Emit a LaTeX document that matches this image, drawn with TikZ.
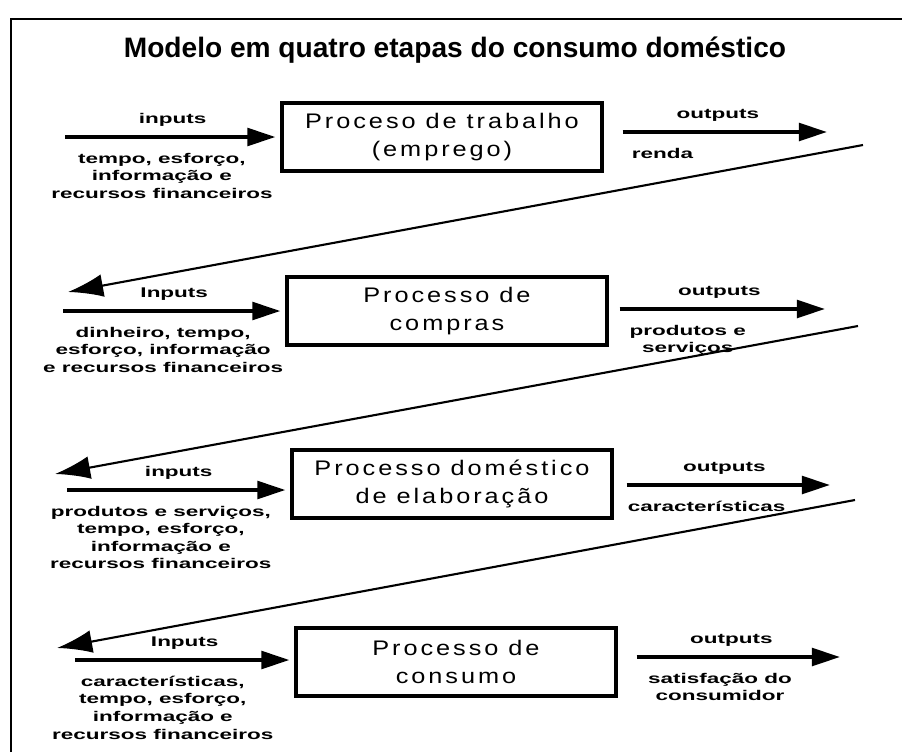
\documentclass[tikz,border=0pt]{standalone}
\usepackage{fontspec}
\setmainfont{Liberation Sans}
\newfontfamily\titlefont{Liberation Sans Bold}
\newfontfamily\labfont[FakeStretch=1.6]{Liberation Sans Bold}
\newfontfamily\boxfont[FakeStretch=1.2,LetterSpace=14]{Liberation Sans}
\usetikzlibrary{arrows.meta,calc,positioning}
\tikzset{%
        auto,
        >={Triangle[length=16pt,width=10pt]},
        shorten > = 0.1cm
}
\tikzstyle{process}=[
    draw = black,
    line width = 1.8pt,
    minimum width = 6.4cm,
    minimum height = 1.36cm,
    align = center,
    font = \boxfont\fontsize{12}{16}\selectfont
]
\tikzstyle{every edge}=[
    draw = black,
    line width = 2.2pt,
    ->
]
\tikzstyle{back}=[
    draw = black,
    line width = 1.2pt,
    shorten > = 0pt,
    -{Latex[length=20pt,width=13pt]}
]
\tikzstyle{lab}=[font=\labfont\fontsize{8}{10}\selectfont, inner sep=5pt]
\tikzstyle{info}=[font=\labfont\fontsize{8}{10}\selectfont, align=center, inner ysep=8pt]

\begin{document}
\begin{tikzpicture}[x=0.02cm, y=-0.02cm]
        \useasboundingbox (0,0) rectangle (907,752);
        \draw[line width=1.5pt] (11,752) |- (907,19);
        \node (title) at (455,50) {\titlefont\fontsize{16}{19}\selectfont Modelo em quatro etapas do consumo doméstico};

        \node[process] (b1) at (442,137) {Proceso de trabalho\\(emprego)};
        \node[process] (b2) at (447,311) {Processo de\\compras};
        \node[process] (b3) at (452,484) {Processo doméstico\\de elaboração};
        \node[process] (b4) at (456,662) {Processo de\\consumo};

        \coordinate (i1) at (65,137);
        \coordinate (i2) at (63,311);
        \coordinate (i3) at (67,490);
        \coordinate (i4) at (75,660);
        \coordinate (o1) at (832,132);
        \coordinate (o2) at (830,309);
        \coordinate (o3) at (835,485);
        \coordinate (o4) at (845,657);
        \coordinate (r1) at (863,145);
        \coordinate (r2) at (858,326);
        \coordinate (r3) at (855,500);
        \coordinate (l1) at (68,292);
        \coordinate (l2) at (55,474);
        \coordinate (l3) at (57,648);

      \path
      (i1)
      edge node[lab]{inputs} node[info, swap, pos=0.45]{tempo, esforço,\\informação e\\recursos financeiros} (i1 -| b1.west)
      (i2)
      edge node[lab]{Inputs} node[info, swap, pos=0.45]{dinheiro, tempo,\\esforço, informação\\e recursos financeiros} (i2 -| b2.west)
      (i3)
      edge node[lab]{inputs} node[info, swap, pos=0.42]{produtos e serviços,\\tempo, esforço,\\informação e\\recursos financeiros} (i3 -| b3.west)
      (i4)
      edge node[lab]{Inputs} node[info, swap, pos=0.4]{características,\\tempo, esforço,\\informação e\\recursos financeiros} (i4 -| b4.west)
      (o1 -| b1.east)
      edge[shorten < = 0.38cm] node[lab]{outputs} node[info, swap, pos=0.09, anchor=north west]{renda} (o1)
      (o2 -| b2.east)
      edge[shorten < = 0.22cm] node[lab]{outputs} node[info, swap, pos=0.06, anchor=north west]{produtos e\\serviços} (o2)
      (o3 -| b3.east)
      edge[shorten < = 0.26cm] node[lab]{outputs} node[info, swap, pos=0.03, anchor=north west]{características} (o3)
      (o4 -| b4.east)
      edge[shorten < = 0.38cm] node[lab]{outputs} node[info, swap, pos=0.1, anchor=north west]{satisfação do\\consumidor} (o4)
      ;
        \draw[back] (r1) -- (l1);
        \draw[back] (r2) -- (l2);
        \draw[back] (r3) -- (l3);
\end{tikzpicture}
\end{document}
